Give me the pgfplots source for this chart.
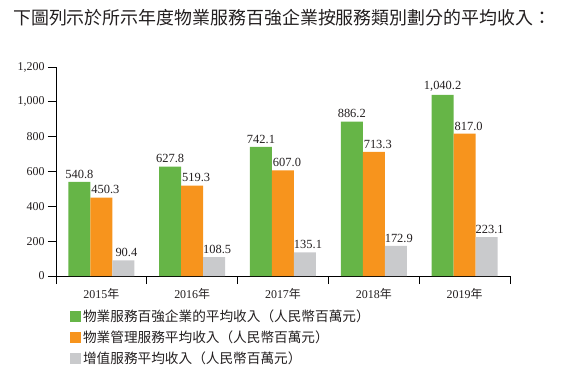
\documentclass[border=0pt]{standalone}
\usepackage{fontspec}
\setmainfont{Liberation Serif}
\newfontfamily\cjk{Noto Sans CJK TC}
\usepackage{pgfplots}
\pgfplotsset{compat=1.18}
\definecolor{cgreen}{HTML}{66B547}
\definecolor{corange}{HTML}{F7941D}
\definecolor{cgray}{HTML}{C9CACC}
\definecolor{ctext}{HTML}{231F20}
\begin{document}
\begin{tikzpicture}
\useasboundingbox (-56bp,-94bp) rectangle (523bp,276bp);
\node[anchor=west, inner sep=0pt, text=ctext, font=\cjk\fontsize{18}{20}\selectfont] at (-43bp,258bp) {下圖列示於所示年度物業服務百強企業按服務類別劃分的平均收入：};
\begin{axis}[
  scale only axis, width=454bp, height=209bp,
  ybar=0pt, bar width=22bp,
  xmin=-0.5, xmax=4.5, ymin=0, ymax=1200,
  axis x line=bottom, axis y line=left,
  axis line style={-, line width=0.8bp, black},
  xtick={0,1,2,3,4},
  xticklabels={2015{\cjk 年},2016{\cjk 年},2017{\cjk 年},2018{\cjk 年},2019{\cjk 年}},
  major x tick style={draw=none},
  minor xtick={-0.5,0.5,1.5,2.5,3.5,4.5},
  minor x tick style={line width=0.8bp, black},
  ytick={0,200,400,600,800,1000,1200},
  y tick style={line width=0.8bp, black},
  tick align=outside,
  major tick length=8bp, minor tick length=8bp,
  /pgf/number format/assume math mode=true,
  /pgf/number format/1000 sep={,},
  tick label style={font=\fontsize{12}{14}\selectfont, text=ctext},
  x tick label style={yshift=-1bp},
  nodes near coords,
  nodes near coords style={font=\fontsize{12.5}{14}\selectfont, text=ctext,
    /pgf/number format/fixed, /pgf/number format/fixed zerofill, /pgf/number format/precision=1},
  legend style={font=\cjk\fontsize{13.7}{15}\selectfont, text=ctext, draw=none, fill=none,
    at={(axis description cs:0.024,-0.14)}, anchor=north west, row sep=4bp,
    /tikz/every even column/.append style={column sep=0bp}},
  legend cell align=left,
]
\addplot[fill=cgreen, draw=none, legend image code/.code={\fill[cgreen] (0bp,-5.5bp) rectangle (11bp,5.5bp);}] coordinates {(0,540.8) (1,627.8) (2,742.1) (3,886.2) (4,1040.2)};
\addplot[fill=corange, draw=none, every node near coord/.append style={xshift=4bp}, legend image code/.code={\fill[corange] (0bp,-5.5bp) rectangle (11bp,5.5bp);}] coordinates {(0,450.3) (1,519.3) (2,607.0) (3,713.3) (4,817.0)};
\addplot[fill=cgray, draw=none, every node near coord/.append style={xshift=3bp}, legend image code/.code={\fill[cgray] (0bp,-5.5bp) rectangle (11bp,5.5bp);}] coordinates {(0,90.4) (1,108.5) (2,135.1) (3,172.9) (4,223.1)};
\legend{物業服務百強企業的平均收入（人民幣百萬元）,物業管理服務平均收入（人民幣百萬元）,增值服務平均收入（人民幣百萬元）}
\end{axis}
\end{tikzpicture}
\end{document}
